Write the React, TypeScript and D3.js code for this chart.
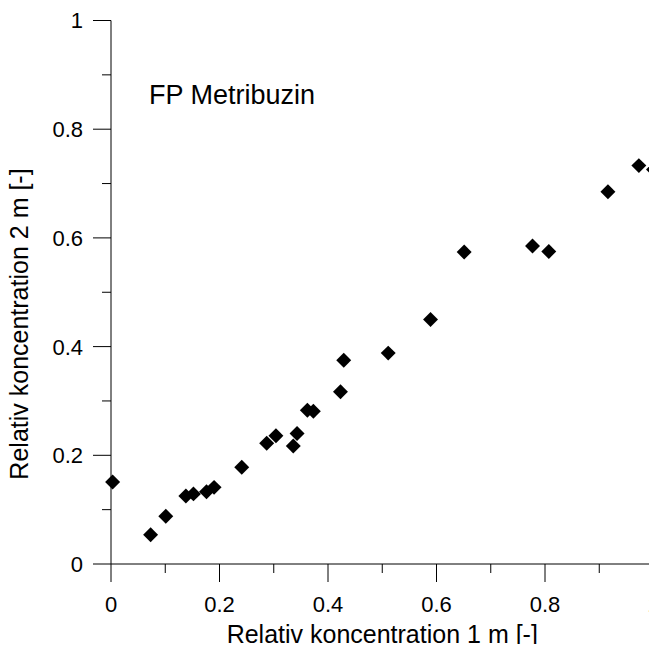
import * as d3 from 'd3';
import React, { useEffect, useRef } from 'react';

// relativ koncentration 1 m (x) og 2 m (y)
const konc1m = [0.003, 0.073, 0.101, 0.138, 0.152, 0.176, 0.19, 0.241, 0.287, 0.304, 0.336, 0.343,
  0.362, 0.373, 0.423, 0.429, 0.511, 0.589, 0.651, 0.777, 0.807, 0.916, 0.973, 1.0];
const konc2m = [0.151, 0.054, 0.088, 0.125, 0.129, 0.133, 0.141, 0.178, 0.222, 0.236, 0.217, 0.24,
  0.283, 0.281, 0.317, 0.375, 0.388, 0.45, 0.574, 0.585, 0.575, 0.685, 0.733, 0.726];
const majorTicks = [0, 0.2, 0.4, 0.6, 0.8, 1];
const minorTicks = [0.1, 0.3, 0.5, 0.7, 0.9];
const tickLabels = ['0', '0.2', '0.4', '0.6', '0.8', '1'];
const title = 'FP Metribuzin';
const xTitle = 'Relativ koncentration 1 m [-]';
const yTitle = 'Relativ koncentration 2 m [-]';

const width = 657;
const height = 652;
const font = '"Liberation Sans", Arial, sans-serif';

const ScatterChart = () => {
  const svgRef = useRef<SVGSVGElement>(null);

  useEffect(() => {
    const svg = d3.select(svgRef.current);
    svg.selectAll('*').remove();

    const x = d3.scaleLinear().domain([0, 1]).range([111, 653.5]);
    const y = d3.scaleLinear().domain([0, 1]).range([564, 20.5]);

    const g = svg.append('g').attr('font-family', font).attr('fill', '#000');

    // axis lines
    g.append('line').attr('x1', x(0)).attr('x2', x(1)).attr('y1', y(0)).attr('y2', y(0))
      .attr('stroke', '#000');
    g.append('line').attr('x1', x(0)).attr('x2', x(0)).attr('y1', y(0)).attr('y2', y(1))
      .attr('stroke', '#000');

    // x ticks
    g.selectAll('.xmaj').data(majorTicks).join('line')
      .attr('x1', d => x(d)).attr('x2', d => x(d))
      .attr('y1', y(0)).attr('y2', y(0) + 18).attr('stroke', '#000');
    g.selectAll('.xmin').data(minorTicks).join('line')
      .attr('x1', d => x(d)).attr('x2', d => x(d))
      .attr('y1', y(0)).attr('y2', y(0) + 9).attr('stroke', '#000');
    g.selectAll('.xlab').data(majorTicks).join('text')
      .attr('x', d => x(d)).attr('y', 612)
      .attr('text-anchor', 'middle').attr('font-size', 22)
      .text((d, i) => tickLabels[i]);

    // y ticks
    g.selectAll('.ymaj').data(majorTicks).join('line')
      .attr('x1', x(0) - 18).attr('x2', x(0))
      .attr('y1', d => y(d)).attr('y2', d => y(d)).attr('stroke', '#000');
    g.selectAll('.ymin').data(minorTicks).join('line')
      .attr('x1', x(0) - 9).attr('x2', x(0))
      .attr('y1', d => y(d)).attr('y2', d => y(d)).attr('stroke', '#000');
    g.selectAll('.ylab').data(majorTicks).join('text')
      .attr('x', 83).attr('y', d => y(d)).attr('dy', '0.36em')
      .attr('text-anchor', 'end').attr('font-size', 22)
      .text((d, i) => tickLabels[i]);

    // titles
    g.append('text').attr('x', (x(0) + x(1)) / 2).attr('y', 643)
      .attr('text-anchor', 'middle').attr('font-size', 25).text(xTitle);
    g.append('text').attr('transform', 'translate(28,324) rotate(-90)')
      .attr('text-anchor', 'middle').attr('font-size', 25).text(yTitle);
    g.append('text').attr('x', 149).attr('y', 104).attr('font-size', 27).text(title);

    // points
    const diamond = d3.symbol().type(d3.symbolSquare).size(112);
    g.selectAll('.pt').data(konc1m).join('path')
      .attr('d', diamond)
      .attr('transform', (d, i) => `translate(${x(d)},${y(konc2m[i])}) rotate(45)`)
      .attr('fill', '#000');
  }, []);

  return <svg ref={svgRef} width={width} height={height} style={{ display: 'block' }} />;
};

export default function App() {
  return (
    <div style={{ margin: -8 }}>
      <ScatterChart />
    </div>
  );
}
